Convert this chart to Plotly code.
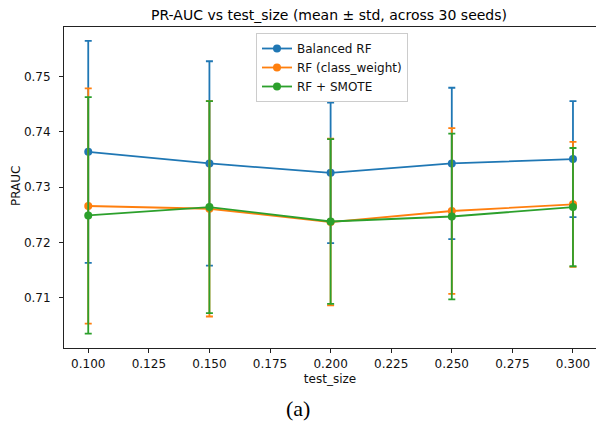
import plotly.graph_objects as go

test_size = [0.10, 0.15, 0.20, 0.25, 0.30]

series_names = ["Balanced RF", "RF (class_weight)", "RF + SMOTE"]
colors = ["#1f77b4", "#ff7f0e", "#2ca02c"]

balanced_mean = [0.7364, 0.7343, 0.7326, 0.7343, 0.7351]
balanced_std = [0.0201, 0.0185, 0.0127, 0.0137, 0.0105]

classw_mean = [0.7266, 0.7261, 0.7237, 0.7257, 0.7269]
classw_std = [0.0213, 0.0195, 0.0151, 0.0150, 0.0113]

smote_mean = [0.7249, 0.7264, 0.7238, 0.7247, 0.7264]
smote_std = [0.0214, 0.0192, 0.0149, 0.0150, 0.0107]

x_ticks = [0.100, 0.125, 0.150, 0.175, 0.200, 0.225, 0.250, 0.275, 0.300]
y_ticks = [0.71, 0.72, 0.73, 0.74, 0.75]

means = [balanced_mean, classw_mean, smote_mean]
stds = [balanced_std, classw_std, smote_std]

fig = go.Figure()
for name, c, m, s in zip(series_names, colors, means, stds):
    fig.add_trace(go.Scatter(
        x=test_size, y=m, name=name, mode="lines+markers",
        line=dict(color=c, width=1.8),
        marker=dict(color=c, size=8),
        error_y=dict(type="data", array=s, visible=True, color=c,
                     thickness=1.8, width=3.5),
    ))

axis_common = dict(
    showline=True, linecolor="#222222", linewidth=1, mirror=True,
    ticks="outside", ticklen=4, tickcolor="#222222", tickwidth=1,
    showgrid=False, zeroline=False,
    tickfont=dict(family="DejaVu Sans", size=12, color="#111111"),
)

fig.update_layout(
    width=596, height=425,
    margin=dict(l=64, r=0, t=27, b=77),
    paper_bgcolor="white", plot_bgcolor="white",
    title=dict(text="PR-AUC vs test_size (mean ± std, across 30 seeds)",
               x=329 / 596, xanchor="center", y=1 - 15 / 425, yanchor="middle",
               yref="container",
               font=dict(family="DejaVu Sans", size=14, color="black")),
    xaxis=dict(range=[0.09, 0.3095], tickvals=x_ticks, tickformat=".3f",
               ticklabelstandoff=1,
               title=dict(text="test_size", standoff=4,
                          font=dict(family="DejaVu Sans", size=12, color="#111111")),
               **axis_common),
    yaxis=dict(range=[0.7009, 0.7590], tickvals=y_ticks, tickformat=".2f",
               ticklabelstandoff=6,
               **axis_common),
    legend=dict(x=(256 - 64) / 532, y=(348 - 33) / 321, xanchor="left", yanchor="top",
                bgcolor="rgba(255,255,255,0.8)", bordercolor="#cccccc",
                borderwidth=1,
                font=dict(family="DejaVu Sans", size=12, color="#111111"),
                tracegroupgap=0, itemwidth=30),
    showlegend=True,
    annotations=[
        dict(text="PRAUC", x=(16 - 64) / 532, y=(348 - 186) / 321,
             xref="paper", yref="paper", xanchor="center", yanchor="middle",
             textangle=-90, showarrow=False,
             font=dict(family="DejaVu Sans", size=12, color="#111111")),
        dict(text="(a)", x=(298 - 64) / 532, y=(348 - 408) / 321,
             xref="paper", yref="paper",
             xanchor="center", yanchor="middle",
             showarrow=False,
             font=dict(family="Liberation Serif", size=22, color="black")),
    ],
)

fig.write_html("out.html")
